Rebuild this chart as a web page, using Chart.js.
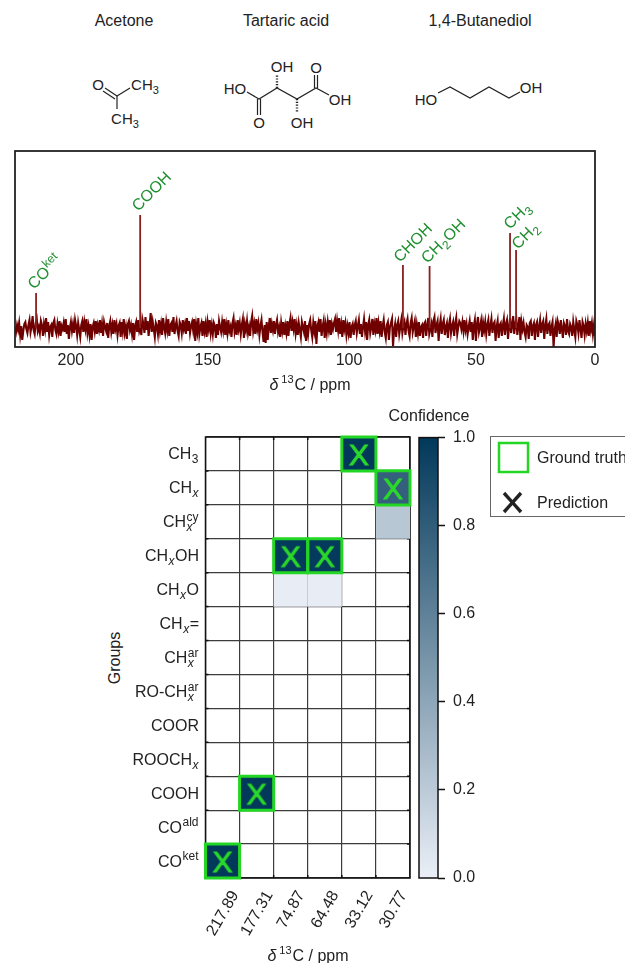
<!DOCTYPE html>
<html>
<head>
<meta charset="utf-8">
<title>13C NMR group prediction</title>
<script src="https://cdn.jsdelivr.net/npm/chart.js@4"></script>
<style>
    html, body { margin: 0; padding: 0; background: #fff; }
    body { position: relative; width: 625px; height: 963px; overflow: hidden; font-family: "Liberation Sans", Arial, sans-serif; color: #222; }
    canvas { position: absolute; }
    .label { position: absolute; font-size: 16px; line-height: 18px; white-space: nowrap; }
    .label.mid { transform: translateX(-50%); }
    .label sup { font-size: 11px; line-height: 0; vertical-align: 7px; margin-left: 3px; margin-right: 1px; }
    #groupsTitle { left: 115px; top: 658px; transform: translate(-50%, -50%) rotate(-90deg); }
    #legendBox { position: absolute; left: 490px; top: 436px; width: 170px; height: 81px; border: 1.3px solid #666; box-sizing: border-box; }
    #molecules, #legendMarks { position: absolute; left: 0; top: 0; }
    #molecules text { font-size: 15px; fill: #222; text-anchor: middle; }
    #molecules line, #molecules polyline { stroke: #222; stroke-width: 1.2; fill: none; }
</style>
</head>
<body>

<div class="label mid" style="left:124px; top:12px">Acetone</div>
<div class="label mid" style="left:286px; top:12px">Tartaric acid</div>
<div class="label mid" style="left:480px; top:12px">1,4-Butanediol</div>

<svg id="molecules" width="625" height="140">
    <!-- acetone -->
    <text x="98" y="90">O</text>
    <text x="145" y="90">CH<tspan font-size="11" dy="4">3</tspan></text>
    <text x="125" y="124">CH<tspan font-size="11" dy="4">3</tspan></text>
    <line x1="117" y1="96" x2="130" y2="88"/>
    <line x1="117" y1="96" x2="117" y2="109"/>
    <line x1="117" y1="96" x2="105" y2="88"/>
    <line x1="115" y1="99" x2="103" y2="91"/>
    <!-- tartaric acid -->
    <text x="235" y="94">HO</text>
    <text x="340" y="105">OH</text>
    <text x="316" y="73">O</text>
    <text x="282" y="72">OH</text>
    <text x="259" y="128">O</text>
    <text x="302" y="128">OH</text>
    <polyline points="247,92 259,99 277,88 297,99 316,88 329,95"/>
    <line x1="257.5" y1="99" x2="257.5" y2="115"/>
    <line x1="260.5" y1="99" x2="260.5" y2="115"/>
    <line x1="314.5" y1="88" x2="314.5" y2="75"/>
    <line x1="317.5" y1="88" x2="317.5" y2="75"/>
    <line x1="277" y1="88" x2="277" y2="74" stroke-dasharray="1.2 1.6" style="stroke-width:2.4"/>
    <line x1="297" y1="99" x2="297" y2="113" stroke-dasharray="1.2 1.6" style="stroke-width:2.4"/>
    <!-- 1,4-butanediol -->
    <text x="426" y="105">HO</text>
    <text x="531" y="93">OH</text>
    <polyline points="438,93 450,87 470,98 489,87 509,98 520,92"/>
</svg>

<canvas id="spectrumChart" width="625" height="260" style="left:0; top:140px"></canvas>
<div class="label mid" style="left:310px; top:376px"><i>δ</i><sup>13</sup>C / ppm</div>

<div class="label mid" style="left:429px; top:407px">Confidence</div>
<div class="label" id="groupsTitle">Groups</div>
<canvas id="heatmapChart" width="625" height="543" style="left:0; top:420px"></canvas>
<canvas id="colorbarChart" width="80" height="543" style="left:410px; top:420px"></canvas>
<div class="label mid" style="left:308px; top:947px"><i>δ</i><sup>13</sup>C / ppm</div>

<div id="legendBox"></div>
<svg id="legendMarks" width="625" height="963">
    <rect x="499" y="443" width="29" height="29" fill="none" stroke="#24d624" stroke-width="2.5"/>
    <line x1="504" y1="493" x2="521" y2="512" stroke="#222" stroke-width="3.4"/>
    <line x1="521" y1="493" x2="504" y2="512" stroke="#222" stroke-width="3.4"/>
</svg>
<div class="label" style="left:537px; top:449px">Ground truth</div>
<div class="label" style="left:537px; top:494px">Prediction</div>

<script>
const noiseStart = 226.1;
const noiseEnd = 0;
const noiseLevels = [
    1,-4,3,-2,5,-7,2,-12,-3,4,6,-1,-5,3,8,-4,2,12,-2,-6,5,9,-3,1,-5,7,3,-8,4,-2,10,-4,6,-7,1,3,-9,5,8,-2,
    -6,4,-3,7,-8,2,-1,5,-4,9,-6,3,-11,0,6,-3,4,-5,8,2,-7,5,-2,-9,3,7,-4,6,-1,9,-5,2,-7,4,-12,1,5,-3,7,-6,
    3,-2,8,-5,4,-8,6,1,-3,5,-10,2,7,-4,3,-6,8,-1,4,-7,2,5,-9,6,-3,9,-5,1,-11,4,7,-2,3,-6,5,-12,2,6,-4,8,
    -3,1,-7,9,4,-5,11,-2,7,-8,3,15,-4,6,-1,-9,5,2,-6,8,-3,4,-7,10,1,-5,6,-2,9,-8,3,5,-4,11,-6,2,7,-3,-8,6,
    3,-5,8,-1,4,-6,10,-3,7,-5,2,
    6,-2,9,-13,3,-4,10,-6,1,5,-8,7,-3,4,-9,6,-1,8,-5,3,-6,5,2,-10,4,-7,7,1,-4,6,-2,9,-7,3,-5,8,-3,1,-9,5,
    10,-4,2,-7,8,-1,5,-6,3,9,-10,4,-2,7,-5,1,-8,6,12,-3,4,-6,9,-1,5,-7,2,8,-4,-14,3,-15,6,-12,2,10,-5,4,-2,
    7,-6,3,8,-4,1,-9,5,-3,6,-7,2,-5,7,-8,4,10,-3,6,-1,9,-5,3,-7,5,-2,-9,6,1,-4,7,-13,3,-6,4,8,-2,-9,5,-3,
    7,-16,2,6,-4,9,-8,1,7,-10,3,-5,6,-2,8,-7,4,-1,5,
    9,-4,7,-2,10,-6,3,-9,8,-1,5,-7,2,-5,6,-10,1,4,-7,3,7,-5,2,8,-6,4,-9,1,9,-3,6,-12,3,8,-5,1,9,-7,4,-2,10,
    -6,5,-3,7,-9,2,8,-4,-10,3,6,-12,1,5,9,-18,-2,4,-9,3,7,-6,1,8,-5,2,6,-7,4,9,-3,-8,5,10,-4,2,7,-9,3,-5,
    6,-8,1,3,-10,4,6,-8,2,10,-6,-1,4,-9,7,11,-5,3,7,-13,2,9,-6,4,8,-7,1,5,-10,3,9,-5,2,6,-8,4,10,-6,1,7,
    5,-1,6,-3,8,-2,4,-6,1,7,-4,
    6,-12,2,8,-13,3,11,-4,1,7,-9,5,-2,6,-6,3,8,-8,2,9,-5,4,6,-13,1,7,-10,3,5,-8,2,9,-7,4,8,-11,1,10,-5,3,
    12,-6,4,9,-7,2,11,-12,6,-1,5,-4,-9,3,1,-11,5,7,-8,2,5,-12,3,6,-9,1,8,-5,4,7,-11,2,9,-6,3,5,-8,1,6,-19,
    -2,4,-9,7,3,-6,8,-1,-10,5,2,-7,9,-3,-6,4,1,-8,6,-2,-9,7,3,-5,8,-1,-10,6,2,-7,4,-3,5,-8,7,-2,5,-6,3,-8
];

const peakPpm = [217.89, 177.31, 74.87, 64.48, 33.12, 30.77];
const peakHeights = [35, 113, 63, 62, 95, 78];
const peakLabels = ['CO^ket', 'COOH', 'CHOH', 'CH_2OH', 'CH_3', 'CH_2'];
const peakLabelShift = [[-2, -3], [-2, -3], [-3, -2], [-2, -2], [0, -3], [2, 0]];

// the printed axis labels are not evenly spaced in the source figure, so they sit at their own positions
const specTickPositions = [204.3, 150.9, 95.9, 46.4, 0];
const specTickLabels = ['200', '150', '100', '50', '0'];

// heatmap
const ppmLabels = ['217.89', '177.31', '74.87', '64.48', '33.12', '30.77'];
const groupLabels = ['CH_3', 'CH_x', 'CH_x^cy', 'CH_xOH', 'CH_xO', 'CH_x=', 'CH_x^ar', 'RO-CH_x^ar',
    'COOR', 'ROOCH_x', 'COOH', 'CO^ald', 'CO^ket'];
const confidence = [
    [0, 0, 0, 0, 1, 0],
    [0, 0, 0, 0, 0, 0.78],
    [0, 0, 0, 0, 0, 0.22],
    [0, 0, 0.99, 0.99, 0, 0],
    [0, 0, 0.01, 0.01, 0, 0],
    [0, 0, 0, 0, 0, 0],
    [0, 0, 0, 0, 0, 0],
    [0, 0, 0, 0, 0, 0],
    [0, 0, 0, 0, 0, 0],
    [0, 0, 0, 0, 0, 0],
    [0, 1, 0, 0, 0, 0],
    [0, 0, 0, 0, 0, 0],
    [1, 0, 0, 0, 0, 0]
];
// group index for each ppm column
const truthRows = [12, 10, 3, 3, 0, 1];
const predictedRows = [12, 10, 3, 3, 0, 1];
const colorbarTicks = [0, 0.2, 0.4, 0.6, 0.8, 1];

const lowColor = [234, 239, 247];
const highColor = [2, 56, 90];
const green = '#24d624';
const textColor = '#222';

Chart.defaults.font.family = '"Liberation Sans", Arial, sans-serif';
Chart.defaults.font.size = 16;
Chart.defaults.color = textColor;

function confidenceColor(v) {
    const c = lowColor.map((low, i) => Math.round(low + (highColor[i] - low) * v));
    return `rgb(${c.join(',')})`;
}

// splits 'CH_x^cy' into main / sub / sup pieces
function parseRich(label) {
    const parts = [];
    const re = /_(\w)(?:\^(\w+))?|\^(\w+)|[^_^]+/g;
    let m;
    while ((m = re.exec(label))) {
        if (m[1]) parts.push({ sub: m[1], sup: m[2] });
        else if (m[3]) parts.push({ sup: m[3] });
        else parts.push({ text: m[0] });
    }
    return parts;
}

function fontFor(size, italic) {
    return `${italic ? 'italic ' : ''}${size}px "Liberation Sans", Arial, sans-serif`;
}

function richWidth(ctx, parts, size) {
    const small = size * 0.75;
    let w = 0;
    parts.forEach(p => {
        if (p.text) {
            ctx.font = fontFor(size);
            w += ctx.measureText(p.text).width;
        } else {
            ctx.font = fontFor(small);
            const supW = p.sup ? ctx.measureText(p.sup).width : 0;
            ctx.font = fontFor(small, p.sub === 'x');
            const subW = p.sub ? ctx.measureText(p.sub).width : 0;
            w += Math.max(supW, subW) + 1;
        }
    });
    return w;
}

// draws the label with its baseline start at the current origin
function drawRich(ctx, parts, size, color) {
    const small = size * 0.75;
    let x = 0;
    ctx.fillStyle = color;
    ctx.textAlign = 'left';
    ctx.textBaseline = 'alphabetic';
    parts.forEach(p => {
        if (p.text) {
            ctx.font = fontFor(size);
            ctx.fillText(p.text, x, 0);
            x += ctx.measureText(p.text).width;
        } else {
            let w = 0;
            if (p.sub) {
                ctx.font = fontFor(small, p.sub === 'x');
                ctx.fillText(p.sub, x + 0.5, size * 0.25);
                w = ctx.measureText(p.sub).width;
            }
            if (p.sup) {
                ctx.font = fontFor(small);
                ctx.fillText(p.sup, x + 0.5, -size * 0.4);
                w = Math.max(w, ctx.measureText(p.sup).width);
            }
            x += w + 1;
        }
    });
}

function drawFrame(ctx, area, width, color) {
    ctx.save();
    ctx.strokeStyle = color;
    ctx.lineWidth = width;
    ctx.strokeRect(area.left, area.top, area.right - area.left, area.bottom - area.top);
    ctx.restore();
}

// the prediction mark is a letter X, kept as a small canvas so the points can use it
function makeXMark() {
    const mark = document.createElement('canvas');
    mark.width = 28;
    mark.height = 28;
    const c = mark.getContext('2d');
    c.font = fontFor(30);
    c.fillStyle = '#2bd92b';
    c.strokeStyle = '#2bd92b';
    c.lineWidth = 0.9;
    c.textAlign = 'center';
    c.textBaseline = 'alphabetic';
    c.fillText('X', 14, 25);
    c.strokeText('X', 14, 25);
    return mark;
}

const spectrumPlugin = {
    id: 'spectrumExtras',
    afterDraw(chart) {
        const { ctx, chartArea, scales } = chart;
        drawFrame(ctx, chartArea, 1.8, '#222');
        peakPpm.forEach((ppm, i) => {
            ctx.save();
            ctx.translate(scales.x.getPixelForValue(ppm) + peakLabelShift[i][0],
                scales.y.getPixelForValue(peakHeights[i]) + peakLabelShift[i][1]);
            ctx.rotate(-Math.PI / 4);
            drawRich(ctx, parseRich(peakLabels[i]), 16, '#1f8f2f');
            ctx.restore();
        });
    }
};

new Chart(document.getElementById('spectrumChart'), {
    type: 'scatter',
    data: {
        datasets: [
            {
                data: peakPpm.flatMap((ppm, i) => [{ x: ppm, y: 0 }, { x: ppm, y: peakHeights[i] }, { x: ppm, y: null }]),
                showLine: true,
                spanGaps: false,
                borderColor: '#8a1f1f',
                borderWidth: 1.8,
                pointRadius: 0
            },
            {
                data: noiseLevels.map((y, i) => ({ x: noiseStart - i * (noiseStart - noiseEnd) / (noiseLevels.length - 1), y })),
                showLine: true,
                borderColor: '#700000',
                borderWidth: 2.1,
                pointRadius: 0
            }
        ]
    },
    options: {
        responsive: false,
        animation: false,
        events: [],
        layout: { padding: { left: 15, right: 30, top: 11, bottom: 0 } },
        plugins: { legend: { display: false }, tooltip: { enabled: false } },
        scales: {
            x: {
                type: 'linear',
                reverse: true,
                min: noiseEnd,
                max: noiseStart,
                grid: { display: false, drawTicks: false },
                border: { display: false },
                afterBuildTicks: axis => { axis.ticks = specTickPositions.map(value => ({ value })); },
                afterFit: axis => { axis.height = 53; },
                ticks: {
                    autoSkip: false,
                    maxRotation: 0,
                    padding: 4,
                    callback: (value, index) => specTickLabels[index]
                }
            },
            y: { display: false, min: -19, max: 177 }
        }
    },
    plugins: [spectrumPlugin]
});

const heatmapPlugin = {
    id: 'heatmapExtras',
    beforeDatasetsDraw(chart) {
        const { ctx, chartArea, scales } = chart;
        // short inward ticks on all four sides, on the cell edges
        const half = (scales.y.getPixelForValue(1) - scales.y.getPixelForValue(0)) / 2;
        const halfX = (scales.x.getPixelForValue(1) - scales.x.getPixelForValue(0)) / 2;
        ctx.save();
        ctx.strokeStyle = '#111';
        ctx.lineWidth = 1.5;
        ctx.beginPath();
        groupLabels.slice(1).forEach((g, i) => {
            const y = scales.y.getPixelForValue(i) + half;
            ctx.moveTo(chartArea.left, y); ctx.lineTo(chartArea.left + 3, y);
            ctx.moveTo(chartArea.right - 3, y); ctx.lineTo(chartArea.right, y);
        });
        ppmLabels.slice(1).forEach((p, i) => {
            const x = scales.x.getPixelForValue(i) + halfX;
            ctx.moveTo(x, chartArea.top); ctx.lineTo(x, chartArea.top + 3);
            ctx.moveTo(x, chartArea.bottom - 3); ctx.lineTo(x, chartArea.bottom);
        });
        ctx.stroke();
        ctx.restore();
        drawFrame(ctx, chartArea, 1.5, '#111');
    },
    afterDraw(chart) {
        const { ctx, chartArea, scales } = chart;
        groupLabels.forEach((label, i) => {
            const parts = parseRich(label);
            ctx.save();
            ctx.translate(chartArea.left - 6.5 - richWidth(ctx, parts, 16), scales.y.getPixelForValue(i) + 5.5);
            drawRich(ctx, parts, 16, textColor);
            ctx.restore();
        });
        ppmLabels.forEach((label, i) => {
            ctx.save();
            ctx.font = fontFor(16);
            const w = ctx.measureText(label).width;
            const angle = Math.PI / 3;
            // rotated about its centre, top of the rotated box on a common line
            const cy = chartArea.bottom + 11 + (w * Math.sin(angle) + 12 * Math.cos(angle)) / 2;
            ctx.translate(scales.x.getPixelForValue(i), cy);
            ctx.rotate(-angle);
            ctx.fillStyle = textColor;
            ctx.textAlign = 'center';
            ctx.textBaseline = 'middle';
            ctx.fillText(label, 0, 0.5);
            ctx.restore();
        });
    }
};

// point radius that makes a 'rect' point exactly one cell wide
const cellRadius = ctx => {
    const x = ctx.chart.scales.x;
    return (x.getPixelForValue(1) - x.getPixelForValue(0)) * Math.SQRT1_2;
};

const cellPoints = [];
confidence.forEach((row, r) => row.forEach((v, c) => {
    if (v > 0) cellPoints.push({ x: ppmLabels[c], y: groupLabels[r], v });
}));

new Chart(document.getElementById('heatmapChart'), {
    type: 'scatter',
    data: {
        datasets: [
            {
                label: 'Prediction',
                data: predictedRows.map((r, c) => ({ x: ppmLabels[c], y: groupLabels[r] })),
                pointStyle: makeXMark(),
                clip: false
            },
            {
                label: 'Ground truth',
                data: truthRows.map((r, c) => ({ x: ppmLabels[c], y: groupLabels[r] })),
                pointStyle: 'rect',
                pointRadius: cellRadius,
                backgroundColor: 'rgba(0,0,0,0)',
                borderColor: green,
                borderWidth: 3,
                clip: false
            },
            {
                label: 'Confidence',
                data: cellPoints,
                pointStyle: 'rect',
                pointRadius: cellRadius,
                borderWidth: 0,
                backgroundColor: ctx => confidenceColor(ctx.raw ? ctx.raw.v : 0)
            }
        ]
    },
    options: {
        responsive: false,
        animation: false,
        events: [],
        layout: { padding: { left: 205.5, right: 215, top: 17, bottom: 85 } },
        plugins: { legend: { display: false }, tooltip: { enabled: false } },
        scales: {
            x: {
                type: 'category',
                labels: ppmLabels,
                offset: true,
                grid: { offset: true, color: '#3c3c3c', lineWidth: 1.2, drawTicks: false },
                border: { display: false },
                ticks: { display: false },
                afterFit: axis => { axis.height = 0; }
            },
            y: {
                type: 'category',
                labels: groupLabels,
                offset: true,
                grid: { offset: true, color: '#3c3c3c', lineWidth: 1.2, drawTicks: false },
                border: { display: false },
                ticks: { display: false },
                afterFit: axis => { axis.width = 0; }
            }
        }
    },
    plugins: [heatmapPlugin]
});

new Chart(document.getElementById('colorbarChart'), {
    type: 'bar',
    data: {
        labels: ['Confidence'],
        datasets: [{
            data: [[colorbarTicks[0], colorbarTicks[colorbarTicks.length - 1]]],
            barPercentage: 1,
            categoryPercentage: 1,
            backgroundColor: ctx => {
                const area = ctx.chart.chartArea;
                if (!area) return confidenceColor(0.5);
                const g = ctx.chart.ctx.createLinearGradient(0, area.bottom, 0, area.top);
                g.addColorStop(0, confidenceColor(0));
                g.addColorStop(1, confidenceColor(1));
                return g;
            }
        }]
    },
    options: {
        responsive: false,
        animation: false,
        events: [],
        layout: { padding: { left: 9, right: 0, top: 17, bottom: 85 } },
        plugins: { legend: { display: false }, tooltip: { enabled: false } },
        scales: {
            x: { display: false },
            y: {
                position: 'right',
                min: 0,
                max: 1,
                border: { display: false },
                grid: { drawOnChartArea: false, drawTicks: true, tickLength: 7, tickColor: '#111', tickWidth: 1.5 },
                afterBuildTicks: axis => { axis.ticks = colorbarTicks.map(value => ({ value })); },
                afterFit: axis => { axis.width = 52; },
                ticks: { padding: 8, callback: value => value.toFixed(1) }
            }
        }
    },
    plugins: [{
        id: 'colorbarFrame',
        afterDraw(chart) { drawFrame(chart.ctx, chart.chartArea, 1.5, '#111'); }
    }]
});
</script>
</body>
</html>
